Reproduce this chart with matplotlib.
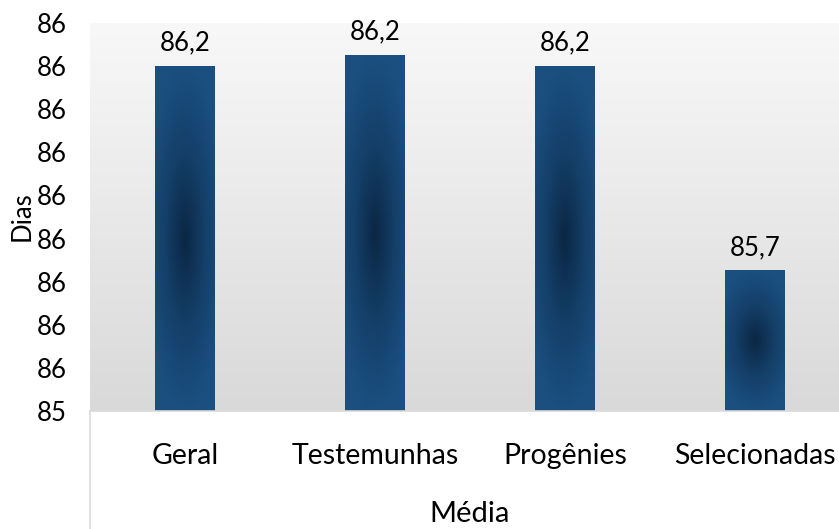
import numpy as np
import matplotlib
matplotlib.use('Agg')
import matplotlib.pyplot as plt
from matplotlib.colors import LinearSegmentedColormap

plt.rcParams['font.family'] = ['Lato', 'DejaVu Sans']

categorias = ['Geral', 'Testemunhas', 'Progênies', 'Selecionadas']
valores = [86.2, 86.225, 86.2, 85.725]
rotulos = ['86,2', '86,2', '86,2', '85,7']
y_ticks = [85.4, 85.5, 85.6, 85.7, 85.8, 85.9, 86.0, 86.1, 86.2, 86.3]
y_tick_labels = ['85', '86', '86', '86', '86', '86', '86', '86', '86', '86']

fig = plt.figure(figsize=(8.39, 5.29), dpi=100)
ax = fig.add_axes([90/839, 118/529, 749/839, 388/529])

ymin, ymax = 85.4, 86.3
ax.set_ylim(ymin, ymax)
ax.set_xlim(-0.5, -0.5 + 749/190)

# fundo da area de plotagem (degrade)
fundo = LinearSegmentedColormap.from_list('fundo', ['#d9d9d9', '#f8f8f8'])
grad = np.linspace(0, 1, 256).reshape(-1, 1)
ax.imshow(grad, cmap=fundo, origin='lower', extent=(0, 1, 0, 1),
          transform=ax.transAxes, aspect='auto', zorder=0)

# barras com degrade radial
cmap_barra = LinearSegmentedColormap.from_list('barra', ['#0b2744', '#143f68', '#1b4f80'])
w = 60/190
yy, xx = np.mgrid[-1:1:200j, -1:1:60j]
d = np.clip(np.sqrt((xx*0.75)**2 + yy**2), 0, 1)
for i, v in enumerate(valores):
    ax.imshow(d, cmap=cmap_barra, vmin=0, vmax=1, extent=(i - w/2, i + w/2, ymin, v),
              aspect='auto', zorder=2, interpolation='bilinear')
    ax.text(i, v + 0.025, rotulos[i], ha='center', va='bottom', fontsize=18.5, color='#000000')

ax.set_xticks(range(len(categorias)))
ax.set_xticklabels(categorias, fontsize=20.5)
ax.set_yticks(y_ticks)
ax.set_yticklabels(y_tick_labels, fontsize=18.5)
ax.tick_params(axis='both', length=0)
ax.tick_params(axis='x', pad=23)
ax.tick_params(axis='y', pad=17)

for s in ['top', 'right', 'left']:
    ax.spines[s].set_visible(False)
ax.spines['bottom'].set_color('#d9d9d9')
ax.spines['bottom'].set_linewidth(1.2)
ax.plot([0, 0], [0, -118/388], transform=ax.transAxes, color='#d9d9d9',
        lw=1.2, clip_on=False)

fig.text(470/839, 1 - 514/529, 'Média', ha='center', va='center', fontsize=21)
fig.text(22/839, 1 - 216/529, 'Dias', rotation=90, ha='center', va='center', fontsize=18.5)

fig.savefig('out.png', dpi=100)
